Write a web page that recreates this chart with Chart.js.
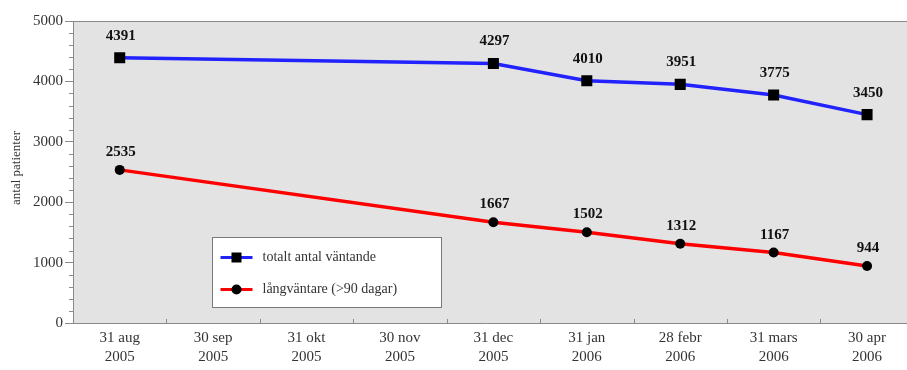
<!DOCTYPE html>
<html>
<head>
<meta charset="utf-8">
<script src="https://cdn.jsdelivr.net/npm/chart.js@4.4.1/dist/chart.umd.min.js"></script>
<style>
  html, body { margin: 0; padding: 0; background: #ffffff; overflow: hidden; }
  canvas { display: block; }
</style>
</head>
<body>
<canvas id="c" width="907" height="370"></canvas>
<script>
// Reporting dates (day + month, year on a second line)
const dates = ['31 aug', '30 sep', '31 okt', '30 nov', '31 dec', '31 jan', '28 febr', '31 mars', '30 apr'];
const years = ['2005', '2005', '2005', '2005', '2005', '2006', '2006', '2006', '2006'];

// Number of patients; no counts reported for sep–nov
const totalWaiting = [4391, null, null, null, 4297, 4010, 3951, 3775, 3450];
const longWaiting  = [2535, null, null, null, 1667, 1502, 1312, 1167, 944];

const seriesNames = ['totalt antal väntande', 'långväntare (>90 dagar)'];
const yTitle = 'antal patienter';

const SERIF = '"Liberation Serif", "DejaVu Serif", serif';
const AXIS_GREY = '#8a8a8a';

// Each date sits in its own slot; the last slot runs on past the right edge
const X_MIN = -0.5;
const X_MAX = 8.344;

const toPoints = (arr) => arr.map((v, i) => ({ x: i, y: v }));

// Grey plot background (carried to the right edge), frame lines, minor ticks
const framePlugin = {
  id: 'frame',
  beforeDraw(chart) {
    const { ctx, chartArea: a } = chart;
    ctx.save();
    ctx.fillStyle = '#e3e3e3';
    ctx.fillRect(a.left, a.top, chart.width - a.left, a.bottom - a.top);
    ctx.restore();
  },
  afterDraw(chart) {
    const { ctx, chartArea: a, scales } = chart;
    ctx.save();
    ctx.strokeStyle = AXIS_GREY;
    ctx.lineWidth = 1;
    // top frame and bottom axis line to the edge
    ctx.beginPath();
    ctx.moveTo(a.left, a.top + 0.5);
    ctx.lineTo(chart.width, a.top + 0.5);
    ctx.moveTo(a.right - 1, Math.round(a.bottom) + 0.5);
    ctx.lineTo(chart.width, Math.round(a.bottom) + 0.5);
    ctx.stroke();
    // minor y ticks every 200
    const y = scales.y;
    for (let v = y.min; v <= y.max; v += 200) {
      if (v % 1000 === 0) continue;
      const py = Math.round(y.getPixelForValue(v)) + 0.5;
      ctx.beginPath();
      ctx.moveTo(a.left - 4, py);
      ctx.lineTo(a.left, py);
      ctx.stroke();
    }
    // short upward ticks between date slots on the x axis
    const x = scales.x;
    for (let i = 1; i < dates.length; i++) {
      const px = Math.round(x.getPixelForValue(i - 0.5)) + 0.5;
      ctx.beginPath();
      ctx.moveTo(px, a.bottom);
      ctx.lineTo(px, a.bottom - 4);
      ctx.stroke();
    }
    // y axis title
    ctx.fillStyle = '#333';
    ctx.font = '13px ' + SERIF;
    ctx.textAlign = 'center';
    ctx.textBaseline = 'middle';
    ctx.translate(17, (a.top + a.bottom) / 2 - 4);
    ctx.rotate(-Math.PI / 2);
    ctx.fillText(yTitle, 0, 0);
    ctx.restore();
  }
};

// Value labels above each point
const valueLabelPlugin = {
  id: 'valueLabels',
  afterDatasetsDraw(chart) {
    const { ctx } = chart;
    ctx.save();
    ctx.fillStyle = '#111';
    ctx.font = 'bold 15px ' + SERIF;
    ctx.textAlign = 'center';
    ctx.textBaseline = 'alphabetic';
    chart.data.datasets.forEach((ds, di) => {
      const meta = chart.getDatasetMeta(di);
      const lift = ds.pointStyle === 'rect' ? 18 : 14;
      meta.data.forEach((pt, i) => {
        const v = ds.data[i].y;
        if (v === null || v === undefined) return;
        ctx.fillText(String(v), pt.x + 1, pt.y - lift);
      });
    });
    ctx.restore();
  }
};

// Boxed legend inside the plot area
const boxLegendPlugin = {
  id: 'boxLegend',
  afterDraw(chart) {
    const { ctx } = chart;
    const box = { x: 212.5, y: 237.5, w: 229, h: 70 };
    ctx.save();
    ctx.fillStyle = '#ffffff';
    ctx.fillRect(box.x, box.y, box.w, box.h);
    ctx.strokeStyle = '#7a7a7a';
    ctx.lineWidth = 1;
    ctx.strokeRect(box.x, box.y, box.w, box.h);
    chart.data.datasets.forEach((ds, i) => {
      const cy = box.y + 20 + i * 32;
      const x0 = box.x + 8, x1 = box.x + 40, mx = (x0 + x1) / 2;
      ctx.strokeStyle = ds.borderColor;
      ctx.lineWidth = 3;
      ctx.beginPath();
      ctx.moveTo(x0, cy);
      ctx.lineTo(x1, cy);
      ctx.stroke();
      ctx.fillStyle = '#000';
      if (ds.pointStyle === 'rect') {
        ctx.fillRect(mx - 5, cy - 5, 10, 10);
      } else {
        ctx.beginPath();
        ctx.arc(mx, cy, 5, 0, Math.PI * 2);
        ctx.fill();
      }
      ctx.fillStyle = '#333';
      ctx.font = '14px ' + SERIF;
      ctx.textAlign = 'left';
      ctx.textBaseline = 'middle';
      ctx.fillText(ds.label, box.x + 50, cy);
    });
    ctx.restore();
  }
};

new Chart(document.getElementById('c'), {
  type: 'line',
  data: {
    datasets: [
      {
        label: seriesNames[0],
        data: toPoints(totalWaiting),
        borderColor: '#2222ff',
        borderWidth: 3.5,
        pointStyle: 'rect',
        pointRadius: 7.8,
        pointBackgroundColor: '#000',
        pointBorderColor: '#000',
        pointBorderWidth: 0,
        spanGaps: true,
        tension: 0
      },
      {
        label: seriesNames[1],
        data: toPoints(longWaiting),
        borderColor: '#ff0000',
        borderWidth: 3.5,
        pointStyle: 'circle',
        pointRadius: 5,
        pointBackgroundColor: '#000',
        pointBorderColor: '#000',
        pointBorderWidth: 0,
        spanGaps: true,
        tension: 0
      }
    ]
  },
  options: {
    responsive: false,
    animation: false,
    events: [],
    layout: { padding: { left: 0, top: 21, right: 0, bottom: 0 } },
    plugins: {
      legend: { display: false },
      tooltip: { enabled: false },
      title: { display: false }
    },
    scales: {
      x: {
        type: 'linear',
        min: X_MIN,
        max: X_MAX,
        afterFit(s) { s.height = 47; s.paddingLeft = 0; s.paddingRight = 0; },
        afterBuildTicks(s) { s.ticks = dates.map((_, i) => ({ value: i })); },
        grid: { display: true, drawOnChartArea: false, drawTicks: false },
        border: { display: true, color: AXIS_GREY, width: 1 },
        ticks: {
          color: '#333',
          font: { family: SERIF, size: 15, lineHeight: 1.3 },
          padding: 5,
          maxRotation: 0,
          autoSkip: false,
          callback: (v) => [dates[v], years[v]]
        }
      },
      y: {
        min: 0,
        max: 5000,
        afterFit(s) { s.width = 73; s.paddingTop = 0; s.paddingBottom = 0; },
        grid: {
          display: true,
          drawOnChartArea: false,
          drawTicks: true,
          tickLength: 8,
          tickColor: AXIS_GREY
        },
        border: { display: true, color: AXIS_GREY, width: 1 },
        ticks: {
          stepSize: 1000,
          color: '#333',
          font: { family: SERIF, size: 15 },
          padding: 2,
          callback: (v) => String(v)
        }
      }
    }
  },
  plugins: [framePlugin, valueLabelPlugin, boxLegendPlugin]
});
</script>
</body>
</html>
